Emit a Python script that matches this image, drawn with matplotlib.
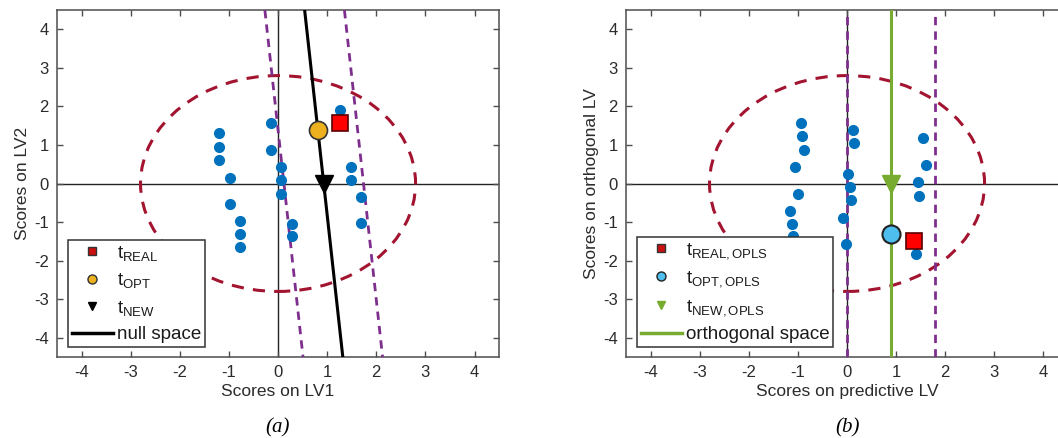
import numpy as np
import matplotlib
matplotlib.use("Agg")
import matplotlib.pyplot as plt
from matplotlib.patches import Ellipse
from matplotlib.lines import Line2D

plt.rcParams['font.family'] = ['Liberation Sans', 'DejaVu Sans']
plt.rcParams['mathtext.fontset'] = 'custom'
plt.rcParams['mathtext.rm'] = 'Liberation Sans'
plt.rcParams['mathtext.it'] = 'Liberation Sans'
plt.rcParams['axes.unicode_minus'] = False

# ---- (a) PLS scores: LV1 vs LV2 ----
pls_lv1 = [-1.20, -1.20, -1.20, -0.98, -0.98, -0.77, -0.77, -0.77,
           -0.14, -0.14, 0.07, 0.07, 0.07, 0.29, 0.29,
           1.27, 1.48, 1.48, 1.68, 1.68]
pls_lv2 = [1.30, 0.94, 0.60, 0.15, -0.54, -0.98, -1.32, -1.65,
           1.56, 0.87, 0.44, 0.10, -0.27, -1.04, -1.37,
           1.91, 0.44, 0.10, -0.35, -1.03]
t_real = (1.27, 1.58)
t_opt = (0.81, 1.39)
t_new = (0.93, 0.0)
null_band = 0.81          # half-width of the band around the null space

# ---- (b) OPLS scores: predictive vs orthogonal ----
opls_pred = [-0.94, -0.91, -0.87, -1.06, -0.99, -1.16, -1.12, -1.09, -1.12,
             0.12, 0.15, 0.01, 0.07, 0.08, -0.09, -0.03,
             1.54, 1.61, 1.44, 1.47, 1.40]
opls_orth = [1.56, 1.24, 0.87, 0.42, -0.27, -0.72, -1.06, -1.37, -1.60,
             1.39, 1.06, 0.25, -0.10, -0.42, -0.89, -1.58,
             1.17, 0.47, 0.03, -0.32, -1.82]
t_real_opls = (1.36, -1.48)
t_opt_opls = (0.90, -1.30)
t_new_opls = (0.90, 0.0)
orth_band = 0.90

t2_radius = 2.8
ticks = [-4, -3, -2, -1, 0, 1, 2, 3, 4]

blue = '#0072BD'
maroon = '#A2142F'
purple = '#7E2F8E'
green = '#77AC30'
orange = '#EDB120'
lightblue = '#4DBEEE'
red = '#FF0000'
spine = '#4d4d4d'
textc = '#2b2b2b'

fig = plt.figure(figsize=(10.58, 4.38), dpi=100)
ax1 = fig.add_axes([0.0539, 0.185, 0.4178, 0.792])
ax2 = fig.add_axes([0.5917, 0.185, 0.4178, 0.792])


def style(ax, xlabel, ylabel):
    ax.set_xlim(-4.5, 4.5)
    ax.set_ylim(-4.5, 4.5)
    ax.set_xticks(ticks)
    ax.set_yticks(ticks)
    ax.tick_params(direction='in', top=True, right=True, length=4.5,
                   width=1, colors=spine, labelcolor=textc,
                   labelsize=12, pad=6)
    for s in ax.spines.values():
        s.set_color(spine)
        s.set_linewidth(1.1)
    ax.set_xlabel(xlabel, fontsize=12.5, color=textc, labelpad=3)
    ax.set_ylabel(ylabel, fontsize=12.5, color=textc, labelpad=3)
    ax.axhline(0, color='#222222', lw=1.0, zorder=1)
    ax.axvline(0, color='#222222', lw=1.0, zorder=1)
    ax.add_patch(Ellipse((0, 0), 2 * t2_radius, 2 * t2_radius, fill=False,
                         ec=maroon, lw=2.2, ls=(0, (4, 3)), zorder=2))


def legend(ax, handles, labels):
    lg = ax.legend(handles, labels, loc='lower left',
                   bbox_to_anchor=(0.025, 0.029), fontsize=13.5,
                   frameon=True, fancybox=False, framealpha=1,
                   edgecolor='#333333', borderpad=0.2, labelspacing=0.45,
                   handlelength=2.2, handletextpad=0.2, borderaxespad=0.0)
    lg.get_frame().set_linewidth(1.1)
    for t in lg.get_texts():
        t.set_color('#1a1a1a')
    lg.set_zorder(10)


# panel (a)
style(ax1, 'Scores on LV1', 'Scores on LV2')
ax1.axline(t_opt, t_new, color='black', lw=2.2, zorder=4)
for off in (-null_band, null_band):
    ax1.axline((t_opt[0] + off, t_opt[1]), (t_new[0] + off, t_new[1]),
               color=purple, lw=2, ls=(0, (3, 2.2)), zorder=3)
ax1.plot(pls_lv1, pls_lv2, 'o', ms=7, color=blue, mec=blue, zorder=5)
ax1.plot(*t_real, 's', ms=11, color=red, mec='#5a0000', mew=1.2, zorder=6)
ax1.plot(*t_opt, 'o', ms=13, color=orange, mec='#333333', mew=1.2, zorder=6)
ax1.plot(*t_new, 'v', ms=13, color='black', zorder=6)
h1 = [Line2D([], [], ls='', marker='s', ms=5.5, mfc='#cc1010', mec='#333333'),
      Line2D([], [], ls='', marker='o', ms=6.5, mfc=orange, mec='#333333'),
      Line2D([], [], ls='', marker='v', ms=6, mfc='black', mec='black'),
      Line2D([], [], color='black', lw=2.5)]
legend(ax1, h1, [r'$\mathrm{t_{REAL}}$', r'$\mathrm{t_{OPT}}$',
                 r'$\mathrm{t_{NEW}}$', 'null space'])

# panel (b)
style(ax2, 'Scores on predictive LV', 'Scores on orthogonal LV')
ax2.axvline(t_new_opls[0], color=green, lw=2.2, zorder=4)
for off in (-orth_band, orth_band):
    ax2.axvline(t_new_opls[0] + off, color=purple, lw=2,
                ls=(0, (3, 2.2)), zorder=3)
ax2.plot(opls_pred, opls_orth, 'o', ms=7, color=blue, mec=blue, zorder=5)
ax2.plot(*t_real_opls, 's', ms=11, color=red, mec='#5a0000', mew=1.2, zorder=6)
ax2.plot(*t_opt_opls, 'o', ms=13, color=lightblue, mec='#222222', mew=1.5,
         zorder=6)
ax2.plot(*t_new_opls, 'v', ms=13, color=green, zorder=6)
h2 = [Line2D([], [], ls='', marker='s', ms=5.5, mfc='#cc1010', mec='#333333'),
      Line2D([], [], ls='', marker='o', ms=6.5, mfc=lightblue, mec='#222222'),
      Line2D([], [], ls='', marker='v', ms=6, mfc=green, mec=green),
      Line2D([], [], color=green, lw=2.5)]
legend(ax2, h2, [r'$\mathrm{t_{REAL,OPLS}}$', r'$\mathrm{t_{OPT,OPLS}}$',
                 r'$\mathrm{t_{NEW,OPLS}}$', 'orthogonal space'])

fig.text(0.262, 0.012, '(a)', fontsize=15, style='italic',
         family=['Liberation Serif', 'DejaVu Serif'], ha='center')
fig.text(0.801, 0.012, '(b)', fontsize=15, style='italic',
         family=['Liberation Serif', 'DejaVu Serif'], ha='center')

fig.savefig('out.png', dpi=100)
